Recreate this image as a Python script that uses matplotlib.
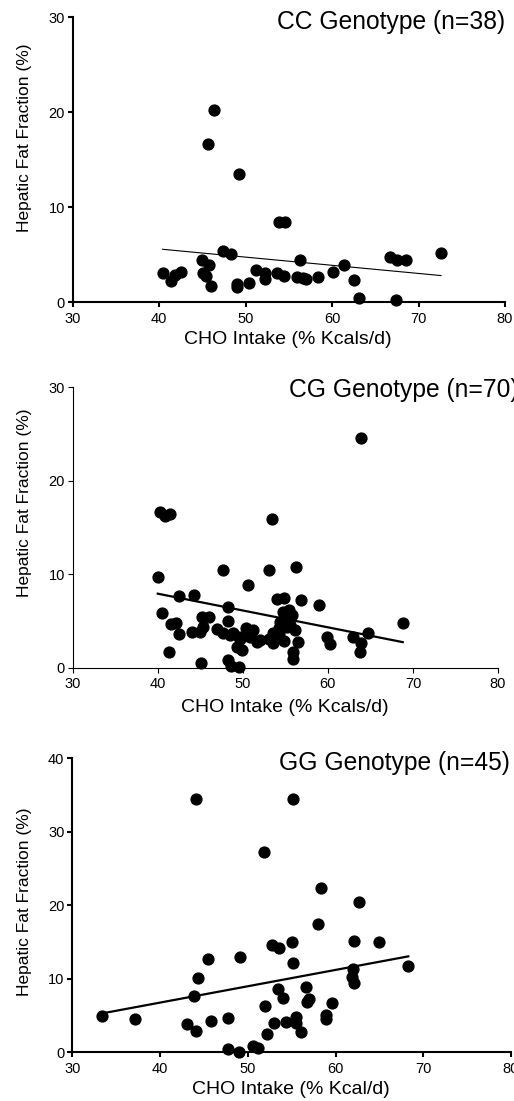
import matplotlib
matplotlib.use("Agg")
import matplotlib.pyplot as plt
import numpy as np

plt.rcParams['font.family'] = ['Liberation Sans', 'DejaVu Sans']

# ---- data ----
cc_x = [46.4, 45.65, 49.2, 53.9, 54.6, 47.4, 48.3, 44.9, 45.8, 40.4, 41.4, 41.8, 42.5,
        45.1, 45.4, 46.0, 49.0, 49.0, 50.4, 51.2, 52.2, 52.2, 53.6, 54.4, 56.3, 56.0,
        56.6, 57.0, 58.4, 60.1, 61.4, 62.5, 63.1, 66.7, 67.5, 68.6, 67.4, 72.6]
cc_y = [20.2, 16.7, 13.5, 8.4, 8.4, 5.4, 5.1, 4.5, 3.9, 3.1, 2.2, 2.9, 3.2,
        3.1, 2.8, 1.75, 1.9, 1.6, 2.0, 3.4, 3.1, 2.5, 3.1, 2.8, 4.5, 2.7,
        2.6, 2.5, 2.7, 3.2, 3.9, 2.35, 0.5, 4.8, 4.5, 4.5, 0.25, 5.2]

cg_x = [63.9, 40.3, 40.85, 41.4, 53.4, 40.0, 47.7, 53.1, 56.25, 50.6, 42.5, 44.3, 54.0,
        54.8, 56.8, 58.9, 40.5, 48.3, 41.5, 42.2, 42.5, 41.3, 44.0, 45.0, 45.3, 45.2,
        46.0, 45.1, 47.0, 47.7, 48.2, 48.3, 48.6, 49.5, 48.8, 49.3, 49.9, 49.7, 50.4,
        51.2, 50.8, 51.7, 53.1, 53.5, 53.6, 54.2, 54.4, 54.7, 55.2, 55.75, 55.5, 54.85,
        56.1, 56.45, 55.9, 55.9, 59.9, 60.2, 63.0, 63.9, 63.8, 64.75, 68.8,
        55.2, 49.5, 50.85, 54.2, 55.4, 48.5, 52.0]
cg_y = [24.6, 16.7, 16.2, 16.4, 15.9, 9.7, 10.4, 10.45, 10.8, 8.8, 7.7, 7.8, 7.3,
        7.5, 7.2, 6.7, 5.9, 6.5, 4.7, 4.75, 3.6, 1.7, 3.8, 3.85, 4.35, 5.4,
        5.45, 0.46, 4.1, 3.75, 5.0, 0.8, 0.2, 0.07, 3.7, 2.25, 1.9, 3.1, 4.2,
        4.0, 3.3, 2.7, 3.1, 2.6, 3.7, 4.2, 4.9, 6.0, 5.3, 5.6, 4.6, 2.9,
        4.0, 2.75, 1.65, 0.9, 3.3, 2.5, 3.3, 2.6, 1.7, 3.7, 4.75,
        4.4, 3.3, 3.5, 3.6, 6.2, 3.5, 3.0]

gg_x = [44.1, 55.1, 51.8, 58.3, 62.7, 58.0, 52.8, 53.6, 55.0, 62.1, 65.0, 45.5, 49.1,
        55.15, 44.35, 62.0, 61.9, 62.05, 68.3, 43.9, 53.4, 54.0, 56.6, 56.7, 57.0, 52.0,
        59.55, 58.95, 58.9, 33.4, 37.1, 43.1, 44.05, 45.8, 47.8, 53.0, 54.35, 55.5, 55.5,
        52.2, 56.05, 47.7, 49.0, 50.6, 51.2]
gg_y = [34.5, 34.5, 27.3, 22.4, 20.45, 17.4, 14.6, 14.15, 15.0, 15.1, 15.0, 12.65, 13.0,
        12.1, 10.1, 11.4, 10.3, 9.4, 11.7, 7.6, 8.6, 7.4, 8.85, 6.9, 7.2, 6.3,
        6.65, 5.1, 4.5, 5.0, 4.5, 3.85, 2.9, 4.25, 4.6, 3.95, 4.1, 4.75, 4.0,
        2.45, 2.7, 0.4, 0.0, 0.8, 0.55]

# regression lines (slope, intercept)
fit_cc = [-0.0859, 9.05]
fit_cg = [-0.180, 15.12]
fit_gg = [0.2223, -2.13]

titles = ["CC Genotype (n=38)", "CG Genotype (n=70)", "GG Genotype (n=45)"]
xlabels = ["CHO Intake (% Kcals/d)", "CHO Intake (% Kcals/d)", "CHO Intake (% Kcal/d)"]
ylabel = "Hepatic Fat Fraction (%)"
xticks = [30, 40, 50, 60, 70, 80]
yticks_list = [[0, 10, 20, 30], [0, 10, 20, 30], [0, 10, 20, 30, 40]]
ylims = [(0, 30), (0, 30), (0, 40)]

W, H = 514, 1101
fig = plt.figure(figsize=(W / 100, H / 100), dpi=100)

# layout in pixels: left, right, top, bottom
boxes = [(72.7, 505, 17.3, 302.3), (72.7, 498, 387.3, 667.7), (72.3, 511, 758.3, 1052.3)]
spine_w = [1.5, 0.8, 1.5]
fit_w = [0.8, 1.6, 1.6]
title_pos = [(277, 22), (289, 390), (279, 763)]
ylab_y = [138, 503, 902]
xlab_y = [340, 707, 1090]

data = [(cc_x, cc_y, fit_cc), (cg_x, cg_y, fit_cg), (gg_x, gg_y, fit_gg)]

for i, (xs, ys, fit) in enumerate(data):
    l, r, t, b = boxes[i]
    ax = fig.add_axes([l / W, 1 - b / H, (r - l) / W, (b - t) / H])
    ax.plot(xs, ys, 'o', color='black', markersize=7.8, clip_on=False, zorder=3)
    xx = np.array([min(xs), max(xs)])
    ax.plot(xx, fit[0] * xx + fit[1], color='black', lw=fit_w[i], zorder=2)
    ax.set_xlim(30, 80)
    ax.set_ylim(*ylims[i])
    ax.set_xticks(xticks)
    ax.set_yticks(yticks_list[i])
    for s in ['top', 'right']:
        ax.spines[s].set_visible(False)
    for s in ['left', 'bottom']:
        ax.spines[s].set_linewidth(spine_w[i])
    ax.tick_params(axis='x', direction='out', length=3.5, width=spine_w[i], pad=3.5,
                   labelsize=10.5)
    ax.tick_params(axis='y', direction='out', length=3.5, width=spine_w[i], pad=2.2,
                   labelsize=10.5)
    fig.text(title_pos[i][0] / W, 1 - title_pos[i][1] / H, titles[i], fontsize=17.7,
             ha='left', va='center')
    fig.text(25 / W, 1 - ylab_y[i] / H, ylabel, fontsize=12.5, rotation=90,
             ha='center', va='center')
    fig.text(((l + r) / 2 - 1) / W, 1 - xlab_y[i] / H, xlabels[i], fontsize=14,
             ha='center', va='center')

fig.savefig("out.png", dpi=100)
